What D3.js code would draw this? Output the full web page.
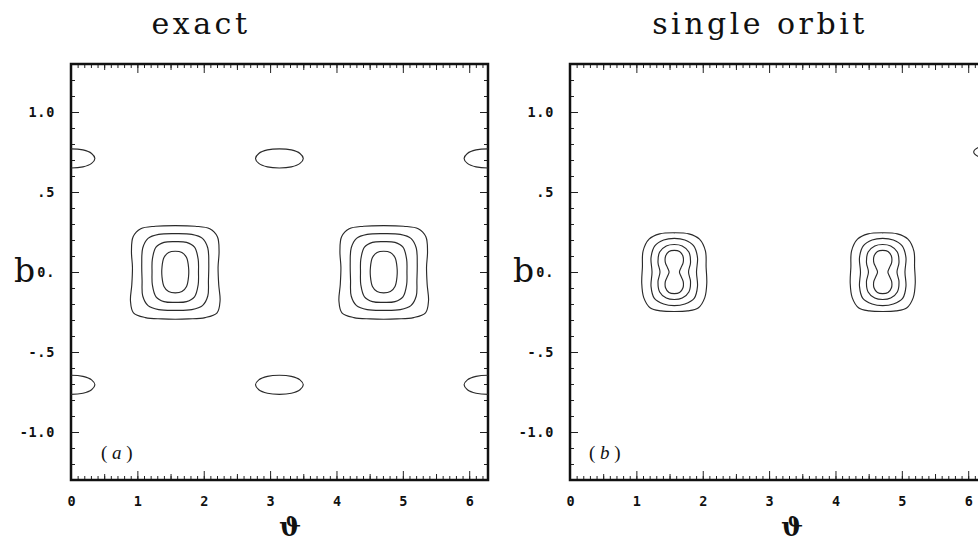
<!DOCTYPE html>
<html>
<head>
<meta charset="utf-8">
<script src="https://cdn.jsdelivr.net/npm/d3@7"></script>
<style>
  html, body { margin: 0; padding: 0; background: #fff; }
  svg { display: block; }
</style>
</head>
<body>
<svg id="chart" width="978" height="542"></svg>
<script>
// ---------------- data ----------------
const panelTitles = ["exact", "single orbit"];
const panelTags = ["a", "b"];
const xLabel = "ϑ";
const yLabel = "b";
const xDomain = [0, 2 * Math.PI];
const yDomain = [-1.3, 1.3];
const xTickValues = [0, 1, 2, 3, 4, 5, 6];
const xTickLabels = ["0", "1", "2", "3", "4", "5", "6"];
const yTickValues = [1.0, 0.5, 0, -0.5, -1.0];
const yTickLabels = ["1.0", ".5", "0.", "-.5", "-1.0"];

// centres (θ) of the two main peaks, b = 0
const peakCentersA = [1.571, 4.712];
const peakCentersB = [1.571, 4.712];

// panel (a) contour loops around a peak, offsets (dθ, b)
const contourA1 = [[0,0.29],[0.3,0.286],[0.52,0.27],[0.635,0.22],[0.66,0.13],[0.645,0.03],[0.655,-0.08],[0.675,-0.18],[0.63,-0.255],[0.45,-0.285],[0.2,-0.293],[0,-0.295],
                   [-0.2,-0.293],[-0.45,-0.285],[-0.63,-0.255],[-0.675,-0.18],[-0.655,-0.08],[-0.645,0.03],[-0.66,0.13],[-0.635,0.22],[-0.52,0.27],[-0.3,0.286]];
const contourA2 = [[0,0.24],[0.25,0.235],[0.41,0.21],[0.49,0.15],[0.505,0.05],[0.5,-0.05],[0.49,-0.15],[0.41,-0.21],[0.25,-0.235],[0,-0.24],
                   [-0.25,-0.235],[-0.41,-0.21],[-0.49,-0.15],[-0.5,-0.05],[-0.505,0.05],[-0.49,0.15],[-0.41,0.21],[-0.25,0.235]];
const contourA3 = [[0,0.19],[0.17,0.185],[0.29,0.155],[0.345,0.08],[0.35,0],[0.345,-0.08],[0.29,-0.155],[0.17,-0.185],[0,-0.19],
                   [-0.17,-0.185],[-0.29,-0.155],[-0.345,-0.08],[-0.35,0],[-0.345,0.08],[-0.29,0.155],[-0.17,0.185]];
const contourA4 = [[0,0.13],[0.1,0.122],[0.17,0.09],[0.2,0.03],[0.2,-0.03],[0.17,-0.09],[0.1,-0.122],[0,-0.13],
                   [-0.1,-0.122],[-0.17,-0.09],[-0.2,-0.03],[-0.2,0.03],[-0.17,0.09],[-0.1,0.122]];

// panel (a) small islands: centres and loop offsets
const islandCentersA = [[0,0.71],[3.14,0.71],[6.283,0.71],[0,-0.705],[3.14,-0.705],[6.283,-0.705]];
const islandLoop = [[0,0.06],[0.18,0.053],[0.31,0.031],[0.36,0],[0.31,-0.031],[0.18,-0.053],[0,-0.06],
                    [-0.18,-0.053],[-0.31,-0.031],[-0.36,0],[-0.31,0.031],[-0.18,0.053]];

// panel (b) contour loops around a peak
const contourB1 = [[0,0.245],[0.22,0.238],[0.38,0.205],[0.47,0.13],[0.48,0.03],[0.49,-0.07],[0.46,-0.16],[0.36,-0.225],[0.2,-0.243],[0,-0.247],
                   [-0.2,-0.243],[-0.36,-0.225],[-0.46,-0.16],[-0.49,-0.07],[-0.48,0.03],[-0.47,0.13],[-0.38,0.205],[-0.22,0.238]];
const contourB2 = [[0,0.21],[0.16,0.2],[0.29,0.165],[0.35,0.09],[0.335,0],[0.35,-0.09],[0.3,-0.165],[0.16,-0.2],[0,-0.21],
                   [-0.16,-0.2],[-0.3,-0.165],[-0.35,-0.09],[-0.335,0],[-0.35,0.09],[-0.29,0.165],[-0.16,0.2]];
const contourB3 = [[0,0.172],[0.12,0.163],[0.22,0.125],[0.245,0.06],[0.215,0],[0.245,-0.06],[0.22,-0.125],[0.12,-0.163],[0,-0.172],
                   [-0.12,-0.163],[-0.22,-0.125],[-0.245,-0.06],[-0.215,0],[-0.245,0.06],[-0.22,0.125],[-0.12,0.163]];
const contourB4 = [[0,0.135],[0.08,0.128],[0.13,0.1],[0.135,0.06],[0.1,0.025],[0.078,0],[0.1,-0.025],[0.135,-0.06],[0.13,-0.1],[0.08,-0.128],[0,-0.135],
                   [-0.08,-0.128],[-0.13,-0.1],[-0.135,-0.06],[-0.1,-0.025],[-0.078,0],[-0.1,0.025],[-0.135,0.06],[-0.13,0.1],[-0.08,0.128]];
// panel (b) small island at right edge
const islandCentersB = [[6.283,0.75]];
const islandLoopB = [[0,0.035],[0.12,0.03],[0.2,0],[0.12,-0.03],[0,-0.035],[-0.12,-0.03],[-0.2,0],[-0.12,0.03]];

// ---------------- layout ----------------
const svg = d3.select("#chart");
const yTop = 64, yBottom = 480;
const panels = [
  { x0: 71, x1: 488, title: panelTitles[0], titleX: 201, tag: panelTags[0], tagX: 101, bX: 14,
    peaks: peakCentersA, loops: [contourA1, contourA2, contourA3, contourA4],
    islands: islandCentersA, islandLoop: islandLoop, xLabelX: 290 },
  { x0: 570, x1: 987, title: panelTitles[1], titleX: 760, tag: panelTags[1], tagX: 589, bX: 513,
    peaks: peakCentersB, loops: [contourB1, contourB2, contourB3, contourB4],
    islands: islandCentersB, islandLoop: islandLoopB, xLabelX: 792 }
];

const tickFont = "'DejaVu Sans Mono', monospace";
const serif = "'DejaVu Serif', serif";

panels.forEach((p, pi) => {
  const x = d3.scaleLinear().domain(xDomain).range([p.x0, p.x1]);
  const y = d3.scaleLinear().domain(yDomain).range([yBottom, yTop]);
  const g = svg.append("g");

  const clipId = "clip" + pi;
  svg.append("clipPath").attr("id", clipId)
    .append("rect").attr("x", p.x0).attr("y", yTop)
    .attr("width", p.x1 - p.x0).attr("height", yBottom - yTop);

  // title
  g.append("text").attr("x", p.titleX).attr("y", 34)
    .attr("text-anchor", "middle")
    .style("font-family", serif).style("font-size", "30px")
    .style("letter-spacing", "3.5px").attr("fill", "#111")
    .text(p.title);

  // minor / mid ticks
  const xMinor = d3.range(0, 63, 1).map(v => v / 10);
  const xMid = d3.range(0.5, 6.3, 1);
  const yMinor = d3.range(-13, 14, 1).map(v => v / 10);
  const yMajor = [-1, -0.5, 0, 0.5, 1];

  const clean = s => s.call(a => a.select(".domain").remove())
                      .call(a => a.selectAll("line").attr("stroke", "#222").attr("stroke-width", 1));

  // bottom axis
  g.append("g").attr("transform", `translate(0,${yBottom})`)
    .call(d3.axisBottom(x).tickValues(xMinor).tickSize(-4).tickFormat("")).call(clean);
  g.append("g").attr("transform", `translate(0,${yBottom})`)
    .call(d3.axisBottom(x).tickValues(xMid).tickSize(-6).tickFormat("")).call(clean);
  const xb = g.append("g").attr("transform", `translate(0,${yBottom})`)
    .call(d3.axisBottom(x).tickValues(xTickValues).tickSize(-9).tickPadding(16)
      .tickFormat((d, i) => xTickLabels[i])).call(clean);
  xb.selectAll("text").style("font-family", tickFont).style("font-weight", "bold")
    .style("font-size", "13.5px").attr("fill", "#111");

  // top axis
  g.append("g").attr("transform", `translate(0,${yTop})`)
    .call(d3.axisTop(x).tickValues(xMinor).tickSize(-4).tickFormat("")).call(clean);
  g.append("g").attr("transform", `translate(0,${yTop})`)
    .call(d3.axisTop(x).tickValues(xMid).tickSize(-6).tickFormat("")).call(clean);
  g.append("g").attr("transform", `translate(0,${yTop})`)
    .call(d3.axisTop(x).tickValues(xTickValues).tickSize(-9).tickFormat("")).call(clean);

  // left axis
  g.append("g").attr("transform", `translate(${p.x0},0)`)
    .call(d3.axisLeft(y).tickValues(yMinor).tickSize(-4).tickFormat("")).call(clean);
  const yl = g.append("g").attr("transform", `translate(${p.x0},0)`)
    .call(d3.axisLeft(y).tickValues(yTickValues).tickSize(-8).tickPadding(16)
      .tickFormat((d, i) => yTickLabels[i])).call(clean);
  yl.selectAll("text").style("font-family", tickFont).style("font-weight", "bold")
    .style("font-size", "13.5px").style("letter-spacing", "0.7px").attr("fill", "#111");

  // right axis
  g.append("g").attr("transform", `translate(${p.x1},0)`)
    .call(d3.axisRight(y).tickValues(yMinor).tickSize(-4).tickFormat("")).call(clean);
  g.append("g").attr("transform", `translate(${p.x1},0)`)
    .call(d3.axisRight(y).tickValues(yMajor).tickSize(-8).tickFormat("")).call(clean);

  // frame
  g.append("rect").attr("x", p.x0).attr("y", yTop)
    .attr("width", p.x1 - p.x0).attr("height", yBottom - yTop)
    .attr("fill", "none").attr("stroke", "#111").attr("stroke-width", 2.5);

  // contours
  const line = d3.line().x(d => x(d[0])).y(d => y(d[1]))
    .curve(d3.curveCatmullRomClosed.alpha(0.5));
  const cg = g.append("g").attr("clip-path", `url(#${clipId})`)
    .attr("fill", "none").attr("stroke", "#2a2a2a").attr("stroke-width", 1.15);
  p.peaks.forEach(c => {
    p.loops.forEach(loop => {
      cg.append("path").attr("d", line(loop.map(d => [c + d[0], d[1]])));
    });
  });
  p.islands.forEach(c => {
    cg.append("path").attr("d", line(p.islandLoop.map(d => [c[0] + d[0], c[1] + d[1]])));
  });

  // axis labels
  g.append("text").attr("x", p.bX).attr("y", 282)
    .style("font-family", serif).style("font-size", "33px").attr("fill", "#111")
    .text(yLabel);
  g.append("text").attr("x", p.xLabelX).attr("y", 536).attr("text-anchor", "middle")
    .style("font-family", serif).style("font-size", "26px").style("font-weight", "bold")
    .attr("fill", "#111").text(xLabel);

  // panel tag
  const t = g.append("text").attr("x", p.tagX).attr("y", 459)
    .style("font-family", "'Liberation Serif', serif").style("font-size", "19px")
    .attr("fill", "#111");
  t.append("tspan").text("( ");
  t.append("tspan").style("font-style", "italic").text(p.tag);
  t.append("tspan").text(" )");
});
</script>
</body>
</html>
